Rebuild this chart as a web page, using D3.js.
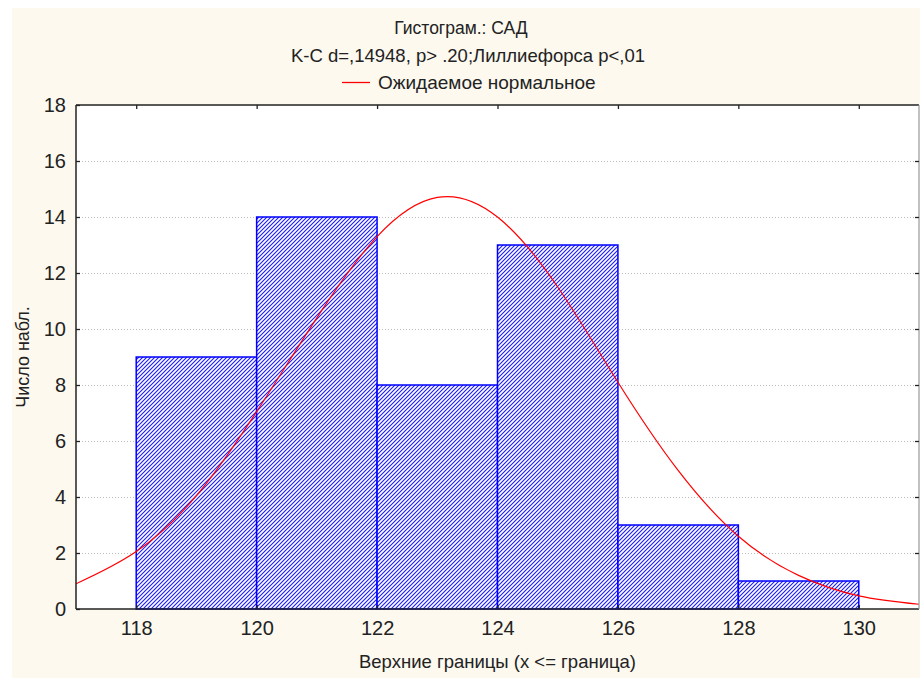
<!DOCTYPE html>
<html>
<head>
<meta charset="utf-8">
<script src="https://cdn.jsdelivr.net/npm/d3@7/dist/d3.min.js"></script>
<style>
  html, body { margin: 0; padding: 0; background: #ffffff; }
  svg { display: block; }
  text { font-family: Arial, "Liberation Sans", sans-serif; fill: #222; }
</style>
</head>
<body>
<svg id="chart" width="920" height="681"></svg>
<script>
// ---- data ----
const binLower = [118, 120, 122, 124, 126, 128];
const binUpper = [120, 122, 124, 126, 128, 130];
const counts   = [9, 14, 8, 13, 3, 1];
// expected normal curve at each integer x
const curveX = [117, 118, 119, 120, 121, 122, 123, 124, 125, 126, 127, 128, 129, 130, 131];
const curveY = [0.9, 2.05, 4.05, 7.05, 10.4, 13.3, 14.7, 14.0, 11.5, 8.1, 4.95, 2.6, 1.2, 0.47, 0.17];
const xTicks = [118, 120, 122, 124, 126, 128, 130];
const yTicks = [0, 2, 4, 6, 8, 10, 12, 14, 16, 18];
const titleText = "Гистограм.: САД";
const subtitleText = "K-C d=,14948, p> .20;Лиллиефорса p<,01";
const legendText = "Ожидаемое нормальное";
const xLabel = "Верхние границы (x <= граница)";
const yLabel = "Число набл.";

// ---- layout ----
const W = 920, H = 681;
const plot = { left: 76, top: 105, right: 919, bottom: 609 };
const svg = d3.select("#chart");

svg.append("rect").attr("x", 12).attr("y", 8).attr("width", W - 12).attr("height", 670)
  .attr("fill", "#fdf9ef");

const defs = svg.append("defs");
const pat = defs.append("pattern").attr("id", "hatch").attr("patternUnits", "userSpaceOnUse")
  .attr("width", 4).attr("height", 4);
pat.append("rect").attr("width", 4).attr("height", 4).attr("fill", "#ffffff");
pat.append("path").attr("d", "M-1,1 l2,-2 M0,4 l4,-4 M3,5 l2,-2")
  .attr("stroke", "#1a1aff").attr("stroke-width", 1.1);
defs.append("clipPath").attr("id", "clip").append("rect")
  .attr("x", plot.left).attr("y", plot.top)
  .attr("width", plot.right - plot.left).attr("height", plot.bottom - plot.top);

const x = d3.scaleLinear().domain([117, 131]).range([plot.left, plot.right]);
const y = d3.scaleLinear().domain([0, 18]).range([plot.bottom, plot.top]);

// plot background
svg.append("rect").attr("x", plot.left).attr("y", plot.top)
  .attr("width", plot.right - plot.left).attr("height", plot.bottom - plot.top)
  .attr("fill", "#ffffff");

// gridlines
svg.append("g").selectAll("line").data(yTicks.filter(d => d > 0 && d < 18)).join("line")
  .attr("x1", plot.left).attr("x2", plot.right)
  .attr("y1", d => y(d) + 0.5).attr("y2", d => y(d) + 0.5)
  .attr("stroke", "#bdbdbd").attr("stroke-width", 1).attr("stroke-dasharray", "1,2");

// bars
svg.append("g").selectAll("rect").data(counts).join("rect")
  .attr("x", (d, i) => x(binLower[i]))
  .attr("y", d => y(d))
  .attr("width", (d, i) => x(binUpper[i]) - x(binLower[i]))
  .attr("height", d => y(0) - y(d))
  .attr("fill", "url(#hatch)")
  .attr("stroke", "#0000ff").attr("stroke-width", 1.5);

// normal curve
const line = d3.line().x(d => x(d[0])).y(d => y(d[1])).curve(d3.curveNatural);
svg.append("path").datum(curveX.map((v, i) => [v, curveY[i]]))
  .attr("clip-path", "url(#clip)")
  .attr("d", line).attr("fill", "none").attr("stroke", "#ff0000").attr("stroke-width", 1.2);

// frame
const frame = svg.append("g");
frame.append("line").attr("x1", plot.left).attr("x2", plot.left).attr("y1", plot.top).attr("y2", plot.bottom)
  .attr("stroke", "#222").attr("stroke-width", 1.5);
frame.append("line").attr("x1", plot.left).attr("x2", plot.right).attr("y1", plot.bottom).attr("y2", plot.bottom)
  .attr("stroke", "#222").attr("stroke-width", 1.5);
frame.append("line").attr("x1", plot.left).attr("x2", plot.right).attr("y1", plot.top).attr("y2", plot.top)
  .attr("stroke", "#222").attr("stroke-width", 1.5);
frame.append("line").attr("x1", plot.right).attr("x2", plot.right).attr("y1", plot.top).attr("y2", plot.bottom)
  .attr("stroke", "#9a9a9a").attr("stroke-width", 1.2);

// axes
const yAxis = d3.axisLeft(y).tickValues(yTicks).tickSize(-4).tickPadding(10);
const gy = svg.append("g").attr("transform", `translate(${plot.left},0)`).call(yAxis);
const yAxisR = d3.axisRight(y).tickValues(yTicks.filter(d => d > 0 && d < 18)).tickSize(-4).tickFormat("");
const gyr = svg.append("g").attr("transform", `translate(${plot.right},0)`).call(yAxisR);
const xAxis = d3.axisBottom(x).tickValues(xTicks).tickSize(-4).tickPadding(12);
const gx = svg.append("g").attr("transform", `translate(0,${plot.bottom})`).call(xAxis);
const xAxisT = d3.axisTop(x).tickValues(xTicks).tickSize(-4).tickFormat("");
const gxt = svg.append("g").attr("transform", `translate(0,${plot.top})`).call(xAxisT);
[gy, gyr, gx, gxt].forEach(g => {
  g.select(".domain").remove();
  g.selectAll(".tick line").attr("stroke", "#222").attr("stroke-width", 1.3);
  g.selectAll("text").style("font-family", "Arial, 'Liberation Sans', sans-serif")
    .style("font-size", "20px").attr("fill", "#222");
});

// titles
svg.append("text").attr("x", 461).attr("y", 34).attr("text-anchor", "middle")
  .style("font-size", "17.5px").text(titleText);
svg.append("text").attr("x", 468).attr("y", 62).attr("text-anchor", "middle")
  .style("font-size", "18.5px").text(subtitleText);
svg.append("line").attr("x1", 342).attr("x2", 370).attr("y1", 82.5).attr("y2", 82.5)
  .attr("stroke", "#ff0000").attr("stroke-width", 1.3);
svg.append("text").attr("x", 378).attr("y", 89).style("font-size", "19px").text(legendText);

// axis labels
svg.append("text").attr("x", (plot.left + plot.right) / 2).attr("y", 668).attr("text-anchor", "middle")
  .style("font-size", "18.5px").text(xLabel);
svg.append("text").attr("transform", `translate(29,${(plot.top + plot.bottom) / 2}) rotate(-90)`)
  .attr("text-anchor", "middle").style("font-size", "18px").text(yLabel);
</script>
</body>
</html>
